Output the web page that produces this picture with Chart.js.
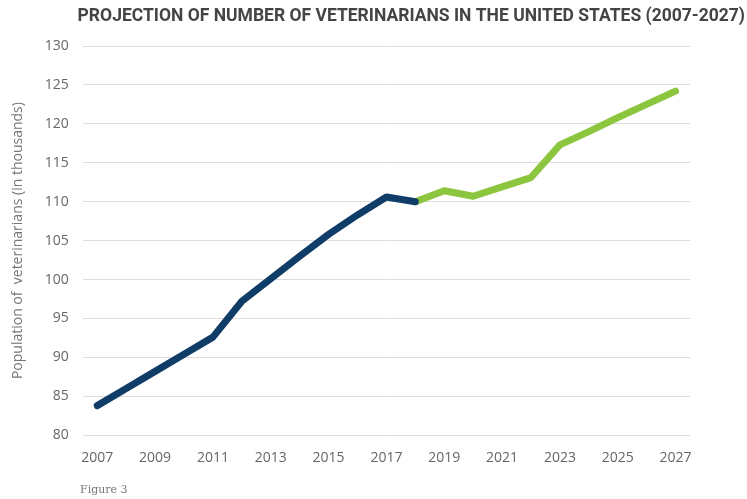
<!DOCTYPE html>
<html>
<head>
<meta charset="utf-8">
<script src="https://cdn.jsdelivr.net/npm/chart.js@4.4.1/dist/chart.umd.min.js"></script>
<style>
  html, body { margin: 0; padding: 0; background: #ffffff; }
  #wrap { width: 747px; height: 499px; }
</style>
</head>
<body>
<div id="wrap"><canvas id="vetChart" width="747" height="499"></canvas></div>
<script>
/* data (thousands of veterinarians) */
const years = ['2007','2008','2009','2010','2011','2012','2013','2014','2015','2016','2017',
               '2018','2019','2020','2021','2022','2023','2024','2025','2026','2027'];
const actualVets = [83.8, 86.0, 88.2, 90.4, 92.6, 97.2, 100.1, 103.0, 105.8, 108.3, 110.6,
                    110.0, null, null, null, null, null, null, null, null, null];
const projectedVets = [null, null, null, null, null, null, null, null, null, null, null,
                       110.0, 111.4, 110.7, 111.9, 113.1, 117.3, 119.0, 120.8, 122.5, 124.2];
const yTicks = [80, 85, 90, 95, 100, 105, 110, 115, 120, 125, 130];

const tickFont = { family: "'Open Sans', sans-serif", size: 14 };

const figureNote = {
    id: 'figureNote',
    afterDraw(chart) {
        const c = chart.ctx;
        c.save();
        c.font = "11px 'DejaVu Serif', serif";
        c.fillStyle = '#777';
        c.textBaseline = 'middle';
        c.fillText('Figure 3', 80, 490);
        c.restore();
    }
};

new Chart(document.getElementById('vetChart').getContext('2d'), {
    type: 'line',
    data: {
        labels: years,
        datasets: [{
            label: 'Actual',
            data: actualVets,
            borderColor: '#0f3d68',
            borderWidth: 7,
            borderCapStyle: 'round',
            borderJoinStyle: 'round',
            pointRadius: 0,
            tension: 0
        }, {
            label: 'Projected',
            data: projectedVets,
            borderColor: '#8cc63f',
            borderWidth: 7,
            borderCapStyle: 'round',
            borderJoinStyle: 'round',
            pointRadius: 0,
            tension: 0
        }]
    },
    options: {
        responsive: false,
        animation: false,
        layout: { padding: { left: 10, right: 2, top: 0, bottom: 27 } },
        plugins: {
            legend: { display: false },
            tooltip: { enabled: false },
            title: {
                display: true,
                text: 'PROJECTION OF NUMBER OF VETERINARIANS IN THE UNITED STATES (2007-2027)',
                align: 'end',
                color: '#444',
                font: { family: "'Roboto', sans-serif", size: 17.5, weight: 'bold' },
                padding: { top: 6, bottom: 19 }
            }
        },
        scales: {
            x: {
                offset: true,
                grid: { display: false },
                border: { display: false },
                ticks: {
                    autoSkip: false,
                    maxRotation: 0,
                    color: '#666',
                    font: tickFont,
                    padding: 6,
                    callback: (v, i) => (i % 2 === 0 ? years[i] : '')
                }
            },
            y: {
                min: 80,
                max: 130,
                afterBuildTicks: axis => { axis.ticks = yTicks.map(v => ({ value: v })); },
                grid: { color: '#dddddd', lineWidth: 1, drawTicks: false },
                border: { display: false },
                ticks: { color: '#666', font: tickFont, padding: 14 },
                title: {
                    display: true,
                    text: 'Population of  veterinarians (in thousands)',
                    color: '#777',
                    font: { family: "'Open Sans', sans-serif", size: 14 },
                    padding: { top: 0, bottom: 4 }
                }
            },
            // empty right-hand gutter so the title can run past the plot area
            gutter: {
                type: 'linear',
                position: 'right',
                grid: { display: false },
                border: { display: false },
                ticks: { display: false },
                afterFit: axis => { axis.width = 55; }
            }
        }
    },
    plugins: [figureNote]
});
</script>
</body>
</html>
